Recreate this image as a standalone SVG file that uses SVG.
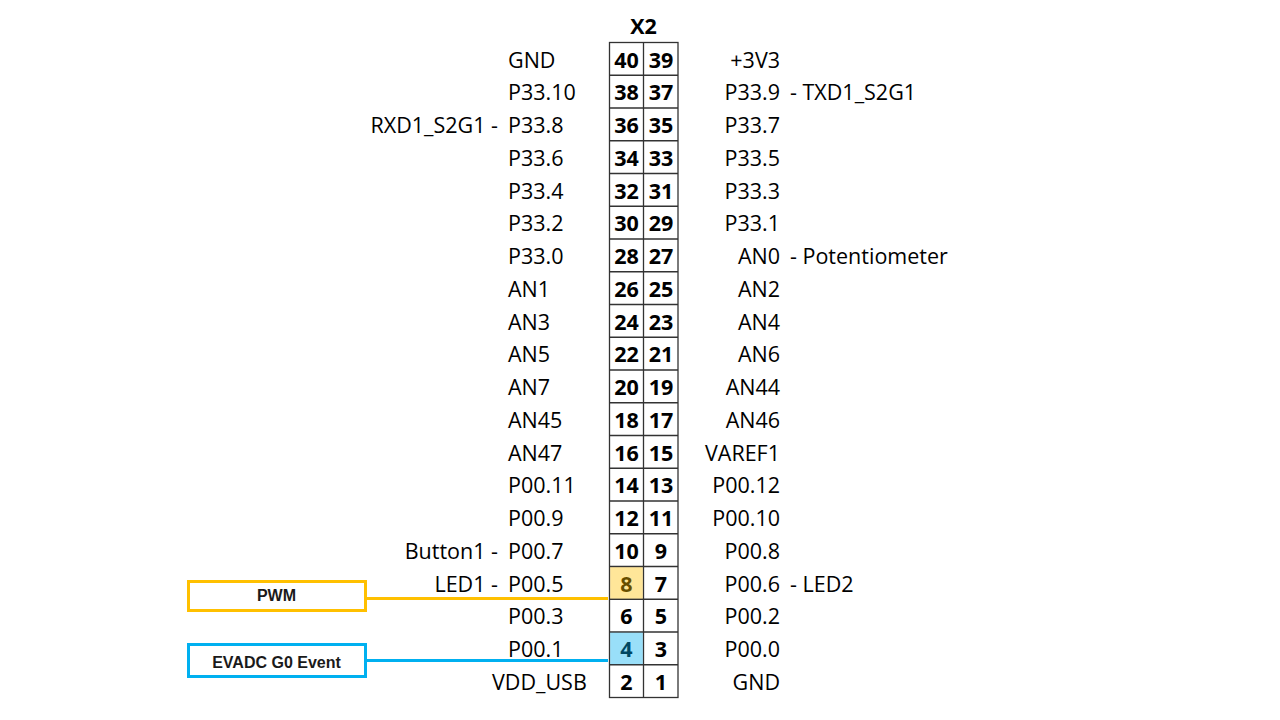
<svg xmlns="http://www.w3.org/2000/svg" width="1280" height="720" viewBox="0 0 1280 720">
<style>
.lbl{font-family:"Open Sans","Noto Sans",sans-serif;font-size:21.5px;fill:#000}
.r{text-anchor:end}
.num{font-family:"Open Sans","Noto Sans",sans-serif;font-size:21.5px;font-weight:bold;fill:#000;text-anchor:middle}
.grid{stroke:#333;stroke-width:1.3;fill:none}
.box{font-family:"Liberation Sans",Arial,sans-serif;font-size:16px;font-weight:bold;fill:#1a1a1a;text-anchor:middle}
</style>
<rect width="1280" height="720" fill="#fff"/>
<g id="header"><text class="num" x="643.5" y="34" style="font-size:21.5px">X2</text></g>
<g id="table">
<rect class="grid" x="609.5" y="42.5" width="68.5" height="655"/>
<line class="grid" x1="643.5" y1="42.5" x2="643.5" y2="697.5"/>
<path class="grid" d="M609.5 75.25H678M609.5 108H678M609.5 140.75H678M609.5 173.5H678M609.5 206.25H678M609.5 239H678M609.5 271.75H678M609.5 304.5H678M609.5 337.25H678M609.5 370H678M609.5 402.75H678M609.5 435.5H678M609.5 468.25H678M609.5 501H678M609.5 533.75H678M609.5 566.5H678M609.5 599.25H678M609.5 632H678M609.5 664.75H678"/>
</g>
<g id="row1"><text class="lbl" x="508" y="67.5">GND</text><text class="num" x="626.5" y="67.5">40</text><text class="num" x="661" y="67.5">39</text><text class="lbl r" x="780" y="67.5">+3V3</text></g>
<g id="row2"><text class="lbl" x="508" y="100.3">P33.10</text><text class="num" x="626.5" y="100.3">38</text><text class="num" x="661" y="100.3">37</text><text class="lbl r" x="780" y="100.3">P33.9</text><text class="lbl" x="790" y="100.3">- TXD1_S2G1</text></g>
<g id="row3"><text class="lbl r" x="498" y="133">RXD1_S2G1 -</text><text class="lbl" x="508" y="133">P33.8</text><text class="num" x="626.5" y="133">36</text><text class="num" x="661" y="133">35</text><text class="lbl r" x="780" y="133">P33.7</text></g>
<g id="row4"><text class="lbl" x="508" y="165.8">P33.6</text><text class="num" x="626.5" y="165.8">34</text><text class="num" x="661" y="165.8">33</text><text class="lbl r" x="780" y="165.8">P33.5</text></g>
<g id="row5"><text class="lbl" x="508" y="198.5">P33.4</text><text class="num" x="626.5" y="198.5">32</text><text class="num" x="661" y="198.5">31</text><text class="lbl r" x="780" y="198.5">P33.3</text></g>
<g id="row6"><text class="lbl" x="508" y="231.3">P33.2</text><text class="num" x="626.5" y="231.3">30</text><text class="num" x="661" y="231.3">29</text><text class="lbl r" x="780" y="231.3">P33.1</text></g>
<g id="row7"><text class="lbl" x="508" y="264">P33.0</text><text class="num" x="626.5" y="264">28</text><text class="num" x="661" y="264">27</text><text class="lbl r" x="780" y="264">AN0</text><text class="lbl" x="790" y="264">- Potentiometer</text></g>
<g id="row8"><text class="lbl" x="508" y="296.8">AN1</text><text class="num" x="626.5" y="296.8">26</text><text class="num" x="661" y="296.8">25</text><text class="lbl r" x="780" y="296.8">AN2</text></g>
<g id="row9"><text class="lbl" x="508" y="329.5">AN3</text><text class="num" x="626.5" y="329.5">24</text><text class="num" x="661" y="329.5">23</text><text class="lbl r" x="780" y="329.5">AN4</text></g>
<g id="row10"><text class="lbl" x="508" y="362.3">AN5</text><text class="num" x="626.5" y="362.3">22</text><text class="num" x="661" y="362.3">21</text><text class="lbl r" x="780" y="362.3">AN6</text></g>
<g id="row11"><text class="lbl" x="508" y="395">AN7</text><text class="num" x="626.5" y="395">20</text><text class="num" x="661" y="395">19</text><text class="lbl r" x="780" y="395">AN44</text></g>
<g id="row12"><text class="lbl" x="508" y="427.8">AN45</text><text class="num" x="626.5" y="427.8">18</text><text class="num" x="661" y="427.8">17</text><text class="lbl r" x="780" y="427.8">AN46</text></g>
<g id="row13"><text class="lbl" x="508" y="460.5">AN47</text><text class="num" x="626.5" y="460.5">16</text><text class="num" x="661" y="460.5">15</text><text class="lbl r" x="780" y="460.5">VAREF1</text></g>
<g id="row14"><text class="lbl" x="508" y="493.3">P00.11</text><text class="num" x="626.5" y="493.3">14</text><text class="num" x="661" y="493.3">13</text><text class="lbl r" x="780" y="493.3">P00.12</text></g>
<g id="row15"><text class="lbl" x="508" y="526">P00.9</text><text class="num" x="626.5" y="526">12</text><text class="num" x="661" y="526">11</text><text class="lbl r" x="780" y="526">P00.10</text></g>
<g id="row16"><text class="lbl r" x="498" y="558.8">Button1 -</text><text class="lbl" x="508" y="558.8">P00.7</text><text class="num" x="626.5" y="558.8">10</text><text class="num" x="661" y="558.8">9</text><text class="lbl r" x="780" y="558.8">P00.8</text></g>
<g id="row17"><text class="lbl r" x="498" y="591.5">LED1 -</text><text class="lbl" x="508" y="591.5">P00.5</text><text class="num" x="626.5" y="591.5">8</text><rect x="610.2" y="567.2" width="32.6" height="31.4" fill="#FFC000" fill-opacity="0.4"/><text class="num" x="661" y="591.5">7</text><text class="lbl r" x="780" y="591.5">P00.6</text><text class="lbl" x="790" y="591.5">- LED2</text></g>
<g id="row18"><text class="lbl" x="508" y="624.3">P00.3</text><text class="num" x="626.5" y="624.3">6</text><text class="num" x="661" y="624.3">5</text><text class="lbl r" x="780" y="624.3">P00.2</text></g>
<g id="row19"><text class="lbl" x="508" y="657">P00.1</text><text class="num" x="626.5" y="657">4</text><rect x="610.2" y="632.7" width="32.6" height="31.4" fill="#00B0F0" fill-opacity="0.4"/><text class="num" x="661" y="657">3</text><text class="lbl r" x="780" y="657">P00.0</text></g>
<g id="row20"><text class="lbl" x="492" y="689.8">VDD_USB</text><text class="num" x="626.5" y="689.8">2</text><text class="num" x="661" y="689.8">1</text><text class="lbl r" x="780" y="689.8">GND</text></g>
<g id="connectors" fill="none" stroke-width="3">
<line x1="366" y1="598.5" x2="608" y2="598.5" stroke="#FFC000"/>
<line x1="366" y1="660.5" x2="608" y2="660.5" stroke="#00B0F0"/>
</g>
<g id="pwm"><rect x="188.5" y="581.5" width="177" height="29" fill="#fff" stroke="#FFC000" stroke-width="3"/><text class="box" x="276.5" y="601">PWM</text></g>
<g id="evadc"><rect x="188.5" y="644.5" width="177" height="32" fill="#fff" stroke="#00B0F0" stroke-width="3"/><text class="box" x="276.5" y="667.5">EVADC G0 Event</text></g>
</svg>
